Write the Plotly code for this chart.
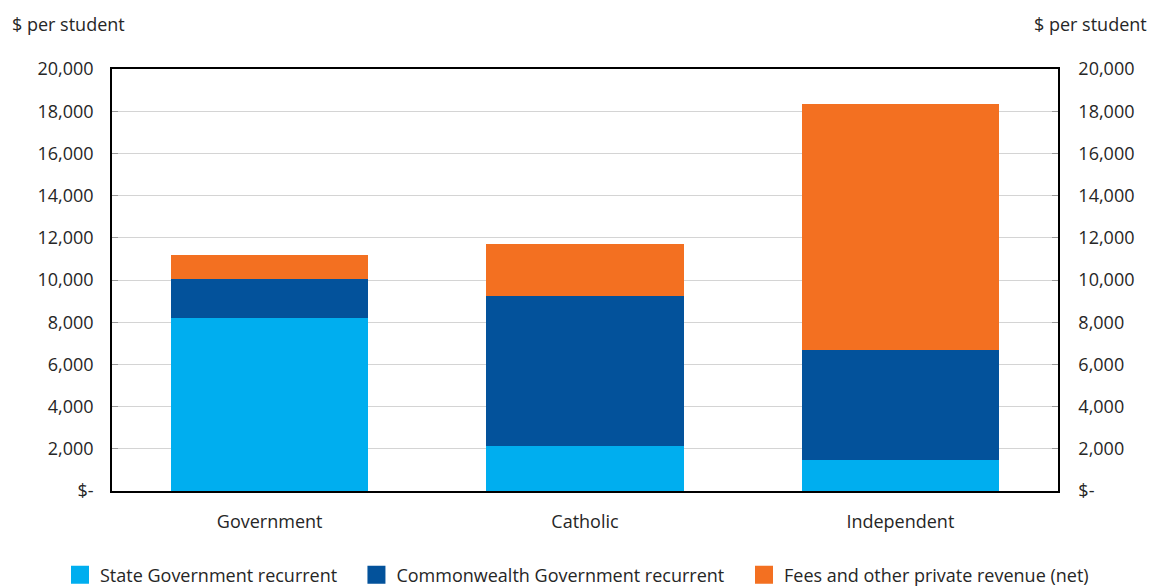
import plotly.graph_objects as go

sectors = ['Government', 'Catholic', 'Independent']
state_rec = [8220, 2120, 1470]
cwlth_rec = [1830, 7130, 5220]
fees_private = [1140, 2450, 11670]

tick_vals = [0, 2000, 4000, 6000, 8000, 10000, 12000, 14000, 16000, 18000, 20000]
tick_text = ['$-', '2,000', '4,000', '6,000', '8,000', '10,000', '12,000', '14,000', '16,000', '18,000', '20,000']

names = ['State Government recurrent', 'Commonwealth Government recurrent', 'Fees and other private revenue (net)']
colors = ['#00AEEF', '#03529B', '#F37021']
series = [state_rec, cwlth_rec, fees_private]
legends = ['legend', 'legend2', 'legend3']

font = dict(family='Open Sans, Noto Sans, sans-serif', size=18, color='#262626')

fig = go.Figure()
for nm, col, vals, lg in zip(names, colors, series, legends):
    fig.add_trace(go.Bar(x=sectors, y=vals, name=nm, marker_color=col,
                         marker_line_width=0, legendgroup=nm, showlegend=False))
    # legend entry with a bigger square swatch
    fig.add_trace(go.Scatter(x=[None], y=[None], name=nm, mode='markers',
                             marker=dict(symbol='square', size=16, color=col,
                                         line=dict(color=col, width=2)),
                             legendgroup=nm, legend=lg, hoverinfo='skip'))

# invisible trace to drive the right-hand axis
fig.add_trace(go.Scatter(x=sectors, y=[0, 0, 0], yaxis='y2', mode='markers',
                         marker_opacity=0, showlegend=False, hoverinfo='skip'))

axis_common = dict(range=[0, 20000], tickvals=tick_vals, ticktext=tick_text,
                   ticks='inside', ticklen=6, tickcolor='#999999',
                   showline=True, linecolor='black', linewidth=1.5, tickfont=font)

leg = dict(yref='container', xref='container', y=0.0207, xanchor='left', yanchor='middle',
           font=font, bgcolor='rgba(0,0,0,0)', itemsizing='trace')

# page body has an 8px margin, so the figure is drawn 8px smaller and offset
fig.update_layout(
    width=1150, height=579,
    margin=dict(l=104, r=100, t=61, b=96, autoexpand=False),
    paper_bgcolor='white', plot_bgcolor='white',
    barmode='stack', bargap=0.375,
    font=font,
    xaxis=dict(showline=True, linecolor='black', linewidth=1.5, mirror=True,
               tickfont=font, ticks='', ticklabelstandoff=14),
    yaxis=dict(showgrid=True, gridcolor='#d4d4d4', gridwidth=1, zeroline=False,
               ticklabelstandoff=13, **axis_common),
    yaxis2=dict(overlaying='y', side='right', showgrid=False, zeroline=False,
                ticklabelstandoff=15, **axis_common),
    legend=dict(x=0.0452, **leg),
    legend2=dict(x=0.303, **leg),
    legend3=dict(x=0.640, **leg),
)

fig.add_annotation(text='$ per student', xref='paper', yref='paper', x=-0.1078, y=1.1066,
                   xanchor='left', yanchor='middle', showarrow=False, font=font)
fig.add_annotation(text='$ per student', xref='paper', yref='paper', x=1.0965, y=1.1066,
                   xanchor='right', yanchor='middle', showarrow=False, font=font)

fig.write_html('out.html')
